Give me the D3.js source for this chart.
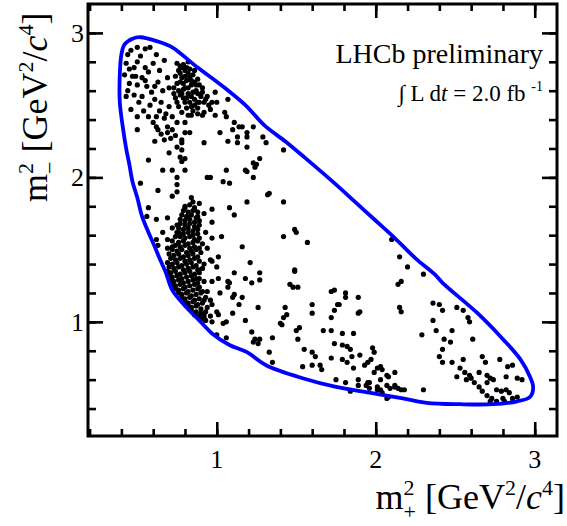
<!DOCTYPE html>
<html>
<head>
<meta charset="utf-8">
<style>
  body{margin:0;background:#fff;}
  svg text{font-family:"Liberation Serif","Times New Roman",serif;fill:#000;}
</style>
</head>
<body>
<svg id="chart" width="567" height="526"></svg>
<script src="https://d3js.org/d3.v7.min.js"></script>
<script>
// tick labels
const xTickLabels = [1, 2, 3]
const yTickLabels = [1, 2, 3]

// phase space boundary, [m+^2, m-^2]
const boundary = [
  [0.52,2.97],[0.63,2.94],[0.72,2.90],[0.78,2.85],[0.88,2.76],[0.99,2.67],[1.05,2.62],
  [1.18,2.50],[1.30,2.36],[1.43,2.25],[1.55,2.14],[1.74,1.96],[1.87,1.83],[1.99,1.71],
  [2.12,1.58],[2.25,1.44],[2.37,1.33],[2.42,1.27],[2.64,1.06],[2.80,0.88],[2.91,0.74],
  [2.97,0.62],[2.99,0.55],[2.97,0.48],[2.89,0.45],[2.74,0.43],[2.53,0.43],[2.32,0.44],
  [2.17,0.47],[1.96,0.51],[1.75,0.55],[1.54,0.61],[1.31,0.70],[1.19,0.79],[1.08,0.84],
  [0.97,0.92],[0.89,1.01],[0.81,1.10],[0.72,1.22],[0.68,1.34],[0.64,1.44],[0.61,1.52],
  [0.57,1.62],[0.53,1.73],[0.50,1.86],[0.47,1.97],[0.45,2.09],[0.43,2.20],[0.41,2.34],
  [0.39,2.52],[0.39,2.71],[0.40,2.85],[0.42,2.92],[0.47,2.96]
]

// candidates, top left corner
const eventsTopLeft = [
  [0.55,2.89],[0.62,2.85],[0.67,2.81],[0.44,2.85],[0.43,2.79],[0.50,2.80],[0.48,2.76],
  [0.55,2.76],[0.57,2.73],[0.42,2.71],[0.47,2.70],[0.53,2.69],[0.63,2.66],[0.69,2.69],
  [0.45,2.65],[0.50,2.64],[0.56,2.63],[0.59,2.59],[0.43,2.56],[0.48,2.57],[0.53,2.56],
  [0.61,2.54],[0.65,2.52],[0.70,2.49],[0.50,2.42],[0.57,2.42],[0.62,2.42],[0.67,2.41],
  [0.72,2.42],[0.75,2.38],[0.69,2.35],[0.63,2.33],[0.80,2.38],[0.80,2.31],[0.74,2.29],
  [0.61,2.25],[0.67,2.26],[0.78,2.24],[0.92,2.24],[0.84,2.43],[0.91,2.43],[0.99,2.43],
  [0.97,2.52],[0.99,2.59],[0.92,2.52],[0.88,2.52],[0.70,2.17],[0.78,2.19],[0.80,2.13],
  [0.57,2.12],[0.46,2.88],[0.50,2.90],[0.58,2.90],[0.52,2.84],[0.60,2.79],[0.64,2.74],
  [0.45,2.75],[0.49,2.70],[0.55,2.67],[0.61,2.63],[0.66,2.60],[0.70,2.62],[0.44,2.60],
  [0.51,2.52],[0.58,2.50],[0.64,2.46],[0.68,2.44],[0.46,2.47],[0.54,2.46],[0.60,2.38],
  [0.72,2.33],[0.65,2.30],[0.71,2.27],[0.50,2.33]
]

// candidates, K* band at the top
const eventsTopBand = [
  [0.75,2.79],[0.78,2.76],[0.81,2.76],[0.77,2.72],[0.80,2.70],[0.83,2.69],[0.86,2.66],
  [0.89,2.64],[0.79,2.65],[0.82,2.62],[0.85,2.59],[0.78,2.58],[0.81,2.55],[0.86,2.54],
  [0.91,2.59],[0.94,2.56],[1.00,2.52],[0.75,2.52],[0.84,2.49],[0.88,2.48],[0.92,2.45],
  [0.76,2.74],[0.79,2.78],[0.82,2.72],[0.77,2.66],[0.80,2.62],[0.84,2.64],[0.87,2.60],
  [0.76,2.60],[0.79,2.55],[0.83,2.52],[0.81,2.48],[0.78,2.45],[0.74,2.55],[0.73,2.62],
  [0.90,2.56],[0.86,2.50],[0.95,2.50],[0.82,2.80],[0.74,2.70],[0.88,2.68],[0.77,2.77],
  [0.80,2.74],[0.83,2.75],[0.85,2.71],[0.78,2.69],[0.81,2.67],[0.84,2.67],[0.87,2.64],
  [0.79,2.61],[0.82,2.58],[0.84,2.56],[0.88,2.58],[0.77,2.57],[0.80,2.52],[0.85,2.46],
  [0.89,2.52],[0.93,2.54],[0.96,2.47],[0.76,2.49],[0.73,2.58],[0.75,2.65],[0.86,2.74],
  [0.91,2.62],[0.82,2.43],[0.88,2.44]
]

// candidates, middle of the plot
const eventsMiddle = [
  [1.06,2.42],[1.02,2.31],[1.10,2.33],[1.14,2.35],[1.19,2.31],[1.23,2.35],[1.19,2.28],
  [1.29,2.28],[1.13,2.24],[1.19,2.21],[1.42,2.19],[1.25,2.09],[1.19,2.04],[1.06,2.05],
  [1.04,1.97],[1.08,1.96],[0.96,2.00],[0.85,1.83],[0.89,1.82],[1.33,1.89],[1.42,1.83],
  [1.08,1.79],[1.19,1.83],[0.72,2.05],[0.66,2.05],[0.52,1.96],[0.63,1.91],[0.78,2.11],
  [0.77,2.14],[0.75,2.21],[0.78,2.26],[0.83,2.31],[0.69,2.31],[0.62,2.35],[1.07,2.54],
  [1.05,2.45],[1.11,2.38],[1.16,2.35],[1.13,2.28],[1.07,2.25],[1.31,2.24],[1.27,2.13],
  [1.23,2.10],[1.18,2.05],[1.23,2.00],[1.24,2.07],[1.32,1.88],[1.11,1.74],[1.42,1.59],
  [1.50,1.62],[1.57,1.55],[1.16,1.52],[1.21,1.41],[1.11,1.34],[1.49,1.35],[1.18,1.30],
  [1.27,1.34],[1.27,1.29],[1.22,1.27],[1.07,1.28],[1.07,1.24],[1.46,1.26],[1.51,1.24],
  [1.11,1.19],[1.74,1.22],[1.81,1.20],[2.10,1.57],[2.15,1.45],[2.20,1.38],[2.16,1.28],
  [2.14,1.26],[2.30,1.33],[1.49,1.64],[0.80,2.05],[0.75,2.00],[0.94,2.00],[0.75,1.95],
  [0.75,1.90],[0.72,1.87],[0.84,1.86],[0.57,1.79],[0.56,1.73],[0.62,1.71],[0.69,1.72],
  [0.80,1.79],[0.86,1.78],[0.88,1.73],[0.92,1.75],[0.97,1.78],[0.97,1.69],[0.75,1.67],
  [0.72,1.65],[0.75,1.62],[0.74,1.59],[0.69,1.51],[0.63,1.53],[0.97,1.58],[1.03,1.59],
  [0.94,1.51],[0.97,1.42],[1.01,1.45],[0.91,1.37],[0.97,1.28],[0.89,1.30],[1.01,1.30],
  [0.94,1.21],[0.66,1.62],[0.69,1.57],[0.62,1.57],[0.72,1.52]
]

// candidates, dense K* band on the left edge
const eventsLowBand = [
  [0.80,1.80],[0.83,1.81],[0.86,1.79],[0.79,1.77],[0.82,1.76],[0.85,1.77],[0.88,1.76],
  [0.78,1.74],[0.81,1.73],[0.84,1.74],[0.87,1.72],[0.77,1.71],[0.80,1.70],[0.83,1.71],
  [0.86,1.69],[0.89,1.70],[0.77,1.68],[0.80,1.67],[0.83,1.68],[0.86,1.66],[0.89,1.67],
  [0.76,1.65],[0.79,1.64],[0.82,1.65],[0.85,1.63],[0.88,1.64],[0.76,1.62],[0.79,1.61],
  [0.82,1.62],[0.85,1.60],[0.88,1.61],[0.93,1.62],[0.77,1.59],[0.80,1.58],[0.83,1.59],
  [0.86,1.57],[0.89,1.58],[0.72,1.56],[0.76,1.55],[0.79,1.56],[0.82,1.54],[0.85,1.55],
  [0.88,1.56],[0.91,1.54],[0.74,1.53],[0.77,1.52],[0.80,1.53],[0.83,1.51],[0.86,1.52],
  [0.89,1.51],[0.72,1.50],[0.75,1.49],[0.78,1.50],[0.81,1.48],[0.84,1.49],[0.87,1.50],
  [0.90,1.48],[0.70,1.47],[0.73,1.46],[0.76,1.47],[0.79,1.45],[0.82,1.46],[0.85,1.47],
  [0.88,1.45],[0.71,1.44],[0.74,1.43],[0.77,1.44],[0.80,1.42],[0.83,1.43],[0.86,1.44],
  [0.89,1.42],[0.69,1.41],[0.72,1.40],[0.75,1.41],[0.78,1.39],[0.81,1.40],[0.84,1.41],
  [0.87,1.39],[0.92,1.40],[0.70,1.38],[0.73,1.37],[0.76,1.38],[0.79,1.36],[0.82,1.37],
  [0.85,1.38],[0.88,1.36],[0.69,1.35],[0.71,1.34],[0.74,1.35],[0.77,1.33],[0.80,1.34],
  [0.83,1.35],[0.86,1.33],[0.89,1.34],[0.70,1.32],[0.72,1.31],[0.75,1.32],[0.78,1.30],
  [0.81,1.31],[0.84,1.32],[0.87,1.30],[0.71,1.29],[0.73,1.28],[0.76,1.29],[0.79,1.27],
  [0.82,1.28],[0.85,1.29],[0.88,1.27],[0.92,1.28],[0.72,1.26],[0.74,1.25],[0.77,1.26],
  [0.80,1.24],[0.83,1.25],[0.86,1.26],[0.89,1.24],[0.74,1.23],[0.76,1.22],[0.79,1.23],
  [0.82,1.21],[0.85,1.22],[0.88,1.23],[0.91,1.21],[0.76,1.20],[0.78,1.19],[0.81,1.20],
  [0.84,1.18],[0.87,1.19],[0.90,1.20],[0.78,1.17],[0.80,1.16],[0.83,1.17],[0.86,1.15],
  [0.89,1.16],[0.93,1.17],[0.80,1.14],[0.82,1.13],[0.85,1.14],[0.88,1.12],[0.91,1.13],
  [0.82,1.11],[0.84,1.10],[0.87,1.11],[0.90,1.09],[0.94,1.10],[0.84,1.08],[0.87,1.07],
  [0.90,1.06],[0.93,1.07],[0.86,1.05],[0.89,1.04],[0.92,1.03],[0.96,1.04],[0.90,1.02],
  [0.93,1.01],[0.97,1.00]
]

// candidates, lower middle
const eventsLowMiddle = [
  [0.96,1.43],[1.00,1.38],[0.89,1.36],[1.08,1.27],[1.02,1.20],[1.10,1.17],[1.16,1.17],
  [1.14,1.12],[1.26,1.10],[1.43,1.10],[1.44,1.05],[1.42,1.03],[1.40,0.99],[1.10,1.06],
  [1.18,1.01],[1.00,1.07],[1.06,1.00],[1.22,0.93],[1.24,0.88],[1.27,0.88],[1.35,0.89],
  [1.33,0.79],[1.35,0.72],[1.48,1.24],[1.50,0.94],[1.51,0.88],[0.96,1.15],[1.01,1.05],
  [1.04,0.99],[1.00,0.91],[1.06,0.89],[1.23,0.86],[1.26,0.85],[0.92,1.15],[0.97,1.12],
  [0.92,1.05],[1.49,1.36],[1.52,0.96],[1.54,0.69],[1.60,0.79],[1.62,0.76],[1.65,0.70],
  [1.66,0.67],[1.60,1.06],[1.60,1.12],[1.67,0.94],[1.72,0.94],[1.72,1.03],[1.74,1.08],
  [1.76,1.12],[1.81,1.17],[1.89,1.17],[1.90,1.07],[1.79,0.92],[1.79,0.84],[1.82,0.83],
  [1.84,0.81],[1.85,0.76],[1.82,0.72],[1.79,0.74],[1.72,0.75],[1.90,0.77],[1.95,0.72],
  [1.93,0.70],[1.98,0.82],[1.99,0.79],[2.01,0.68],[2.04,0.67],[2.07,0.63],[2.03,0.60],
  [2.12,0.65],[2.07,0.56],[2.09,0.54],[2.12,0.56],[2.14,0.54],[2.18,0.53],[1.75,0.60],
  [1.81,0.58],[1.89,0.56],[1.94,0.56],[1.96,0.58],[2.01,0.53],[2.04,0.51],[2.08,0.48],
  [2.30,0.53],[1.72,1.21],[1.89,1.06],[1.77,1.12],[1.41,0.98],[1.86,0.92],[1.74,0.85],
  [1.55,0.81],[1.86,0.68],[1.97,0.74],[1.99,0.65],[2.03,0.69],[2.08,0.62],[1.60,0.70],
  [1.89,0.60],[1.95,0.58],[1.96,0.54],[2.01,0.55],[2.03,0.53],[2.12,0.55],[2.16,0.53],
  [2.15,1.10],[2.16,1.07],[1.84,0.52],[2.07,0.47]
]

// candidates, lower right corner
const eventsLowRight = [
  [2.36,1.13],[2.40,1.12],[2.42,1.08],[2.36,1.01],[2.38,0.94],[2.29,0.91],[2.48,0.94],
  [2.51,1.10],[2.55,1.08],[2.58,1.03],[2.59,1.00],[2.43,0.88],[2.47,0.86],[2.61,0.88],
  [2.42,0.81],[2.40,0.76],[2.42,0.72],[2.48,0.72],[2.55,0.74],[2.53,0.68],[2.56,0.65],
  [2.51,0.62],[2.59,0.63],[2.57,0.60],[2.60,0.61],[2.62,0.58],[2.67,0.76],[2.69,0.72],
  [2.65,0.65],[2.70,0.63],[2.72,0.61],[2.70,0.58],[2.65,0.55],[2.67,0.52],[2.70,0.49],
  [2.73,0.47],[2.72,0.45],[2.76,0.45],[2.78,0.74],[2.83,0.69],[2.86,0.70],[2.82,0.62],
  [2.89,0.61],[2.92,0.60],[2.76,0.53],[2.79,0.52],[2.82,0.53],[2.84,0.51],[2.86,0.47],
  [2.80,0.47],[2.89,0.48],[2.81,0.45],[2.74,0.60]
]

const events = [].concat(eventsTopLeft, eventsTopBand, eventsMiddle, eventsLowBand, eventsLowMiddle, eventsLowRight)

const svg = d3.select('#chart')

const x = d3.scaleLinear().domain([0.19, 3.14]).range([88, 557])
const y = d3.scaleLinear().domain([0.21, 3.2]).range([436, 4])

// boundary curve
const line = d3.line()
               .x(d => x(d[0]))
               .y(d => y(d[1]))
               .curve(d3.curveCatmullRomClosed.alpha(0.5))

// points
svg.append('g')
   .selectAll('circle')
   .data(events)
   .join('circle')
   .attr('cx', d => x(d[0]))
   .attr('cy', d => y(d[1]))
   .attr('r', 2.6)
   .attr('fill', '#000')

svg.append('path')
   .attr('d', line(boundary))
   .attr('fill', 'none')
   .attr('stroke', '#0000ff')
   .attr('stroke-width', 3.8)

// axes, ticks pointing inwards
const minorX = d3.range(0.2, 3.1, 0.2)
const minorY = d3.range(0.4, 3.1, 0.2)

function drawAxis(axis, transform) {
  svg.append('g')
     .attr('transform', transform)
     .call(axis)
     .call(g => g.select('.domain').remove())
     .call(g => g.selectAll('.tick line').attr('stroke', '#000').attr('stroke-width', 2.6))
     .call(g => g.selectAll('.tick text').remove())
}

drawAxis(d3.axisBottom(x).tickValues(xTickLabels).tickSize(-14), 'translate(0,436)')
drawAxis(d3.axisBottom(x).tickValues(minorX).tickSize(-7), 'translate(0,436)')
drawAxis(d3.axisTop(x).tickValues(xTickLabels).tickSize(-14), 'translate(0,4)')
drawAxis(d3.axisTop(x).tickValues(minorX).tickSize(-7), 'translate(0,4)')
drawAxis(d3.axisLeft(y).tickValues(yTickLabels).tickSize(-15), 'translate(88,0)')
drawAxis(d3.axisLeft(y).tickValues(minorY).tickSize(-8), 'translate(88,0)')
drawAxis(d3.axisRight(y).tickValues(yTickLabels).tickSize(-15), 'translate(557,0)')
drawAxis(d3.axisRight(y).tickValues(minorY).tickSize(-8), 'translate(557,0)')

// frame
svg.append('rect')
   .attr('x', 88).attr('y', 4)
   .attr('width', 469).attr('height', 432)
   .attr('fill', 'none')
   .attr('stroke', '#000')
   .attr('stroke-width', 3)

// tick labels
svg.append('g')
   .selectAll('text')
   .data(xTickLabels)
   .join('text')
   .attr('x', d => x(d))
   .attr('y', 468)
   .attr('text-anchor', 'middle')
   .attr('font-size', 26)
   .text(d => d)

svg.append('g')
   .selectAll('text')
   .data(yTickLabels)
   .join('text')
   .attr('x', 84)
   .attr('y', d => y(d) + 9)
   .attr('text-anchor', 'end')
   .attr('font-size', 26)
   .text(d => d)

// axis titles: m^2 with stacked sign
function massTitle(t, sign) {
  t.append('tspan').text('m')
  t.append('tspan').attr('font-size', 22).attr('dy', -14).text('2')
  t.append('tspan').attr('font-size', 22).attr('dx', -11).attr('dy', 24).text(sign)
  t.append('tspan').attr('dy', -10).text(' [GeV')
  t.append('tspan').attr('font-size', 22).attr('dy', -14).text('2')
  t.append('tspan').attr('dy', 14).text('/')
  t.append('tspan').attr('font-style', 'italic').text('c')
  t.append('tspan').attr('font-size', 22).attr('dy', -14).text('4')
  t.append('tspan').attr('dy', 14).text(']')
}

svg.append('text')
   .attr('x', 565).attr('y', 509)
   .attr('text-anchor', 'end')
   .attr('font-size', 36)
   .call(massTitle, '+')

svg.append('text')
   .attr('transform', 'translate(47,202) rotate(-90)')
   .attr('text-anchor', 'start')
   .attr('font-size', 36)
   .call(massTitle, '\u2212')

// LHCb label
svg.append('text')
   .attr('x', 543).attr('y', 63)
   .attr('text-anchor', 'end')
   .attr('font-size', 28)
   .text('LHCb preliminary')

const lumi = svg.append('text')
   .attr('x', 543).attr('y', 101)
   .attr('text-anchor', 'end')
   .attr('font-size', 23)
lumi.append('tspan').text('\u222B L d')
lumi.append('tspan').attr('font-style', 'italic').text('t')
lumi.append('tspan').text(' = 2.0 fb ')
lumi.append('tspan').attr('font-size', 14).attr('dy', -10).text('-1')
</script>
</body>
</html>
